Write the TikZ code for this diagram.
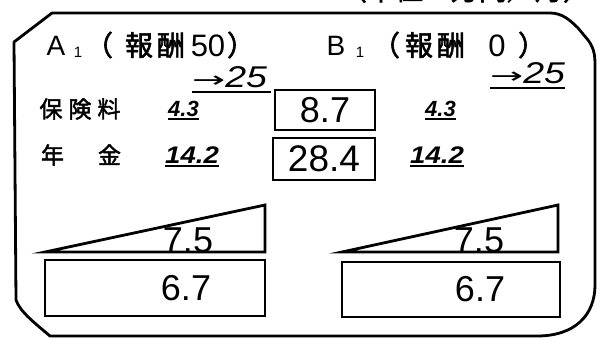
\documentclass[tikz,border=0pt]{standalone}
\usepackage{fontspec}
\setmainfont{Liberation Sans}
\newfontfamily\jp[FakeBold=2]{Noto Sans CJK JP}
\newfontfamily\arr{DejaVu Sans}
\tikzset{
  frameline/.style={line width=2.8pt, line join=round, line cap=round},
  numbox/.style={draw, line width=2.6pt, inner sep=0pt},
  tri/.style={draw, line width=2.8pt, line join=miter},
  uline/.style={line width=1.8pt},
  title/.style={font=\fontsize{28}{32}\selectfont, inner sep=0pt},
  sub/.style={font=\fontsize{15}{18}\selectfont, inner sep=0pt},
  cjkT/.style={font=\jp\fontsize{28}{32}\selectfont, inner sep=0pt},
  cjk/.style={font=\jp\fontsize{23}{26}\selectfont, inner sep=0pt},
  hand/.style={font=\fontsize{22}{26}\selectfont\bfseries\itshape, inner sep=0pt},
  handbig/.style={font=\fontsize{30}{34}\selectfont\itshape, inner sep=0pt},
  big/.style={font=\fontsize{36}{40}\selectfont, inner sep=0pt},
}
\begin{document}
\begin{tikzpicture}[x=1pt,y=-1pt]
\useasboundingbox (0,0) rectangle (602,338);
% clipped header text
\begin{scope}
\clip (0,0) rectangle (602,338);
\node[font=\jp\fontsize{28}{32}\selectfont, inner sep=0pt, anchor=base] (unit) at (465,0) {（単位：万円／月）};
\end{scope}
% outer frame
\draw[frameline] (52,13) -- (550,13) .. controls (562,13) and (570,20) .. (578,28)
  -- (588,40) .. controls (594,48) and (595,55) .. (595,65) -- (595,285)
  .. controls (595,315) and (575,336) .. (537,336) -- (50,336)
  .. controls (36,324) and (20,312) .. (16,300) -- (14,42) -- cycle;
% titles
\node[title] (A) at (56,46) {A};
\node[sub] (A1) at (78,52) {1};
\node[cjkT] (Ao) at (99,45) {（};
\node[cjkT] (Ah) at (155,45) {報\hspace{4pt}酬};
\node[title, font=\fontsize{31}{34}\selectfont] (A50) at (208,46) {50};
\node[cjkT] (Ac) at (241,45) {）};
\node[title] (B) at (336,46) {B};
\node[sub] (B1) at (360,52) {1};
\node[cjkT] (Bo) at (386,45) {（};
\node[cjkT] (Bh) at (435,45) {報\hspace{4pt}酬};
\node[title, font=\fontsize{31}{34}\selectfont] (B0) at (497,46) {0};
\node[cjkT] (Bc) at (532,45) {）};
% arrows 25
\node[handbig, anchor=base west] (r25L) at (192,87) {\scalebox{1.8}[1]{\arr\fontsize{22}{24}\selectfont →}\scalebox{1.25}[1]{25}};
\draw[uline] ([yshift=-5pt]r25L.base west) -- ([xshift=4pt,yshift=-5pt]r25L.base east);
\node[handbig, anchor=base west] (r25R) at (490,83) {\scalebox{1.8}[1]{\arr\fontsize{22}{24}\selectfont →}\scalebox{1.25}[1]{25}};
\draw[uline] ([yshift=-5pt]r25R.base west) -- ([yshift=-5pt]r25R.base east);
% rows
\node[cjk] (hoken) at (80,109) {保\hspace{6pt}険\hspace{6pt}料};
\node[cjk] (nenkin) at (81,155) {年\hspace{34pt}金};
\node[hand, anchor=base west] (a43) at (168,116) {4.3};
\draw[uline] ([yshift=-3pt]a43.base west) -- ([yshift=-3pt]a43.base east);
\node[hand, anchor=base west] (b43) at (425,116) {4.3};
\draw[uline] ([yshift=-3pt]b43.base west) -- ([yshift=-3pt]b43.base east);
\node[hand, font=\fontsize{24}{28}\selectfont\bfseries\itshape, anchor=base west] (a142) at (165,163) {\scalebox{1.15}[1]{14.2}};
\draw[uline] ([yshift=-3pt]a142.base west) -- ([yshift=-3pt]a142.base east);
\node[hand, font=\fontsize{24}{28}\selectfont\bfseries\itshape, anchor=base west] (b142) at (410,163) {\scalebox{1.15}[1]{14.2}};
\draw[uline] ([yshift=-3pt]b142.base west) -- ([yshift=-3pt]b142.base east);
% center boxes
\node[numbox, big, minimum width=100pt, minimum height=40pt] (b87) at (325,110) {8.7};
\node[numbox, big, font=\fontsize{37}{40}\selectfont, minimum width=102pt, minimum height=42pt] (b284) at (324,159) {28.4};
% triangles
\coordinate (L1) at (45,252); \coordinate (L2) at (265,205); \coordinate (L3) at (265,252);
\draw[tri] (L1) -- (L2) -- (L3) -- cycle;
\coordinate (R1) at (342,252); \coordinate (R2) at (558,205); \coordinate (R3) at (558,252);
\draw[tri] (R1) -- (R2) -- (R3) -- cycle;
\node[big, anchor=base] (t75L) at (188,252) {7.5};
\node[big, anchor=base] (t75R) at (479,252) {7.5};
% lower rectangles
\node[numbox, minimum width=220pt, minimum height=56pt] (rL) at (155,288) {};
\node[big] (t67L) at (186,288) {6.7};
\node[numbox, minimum width=218pt, minimum height=55pt] (rR) at (451,289.5) {};
\node[big] (t67R) at (480,289) {6.7};
\end{tikzpicture}
\end{document}
